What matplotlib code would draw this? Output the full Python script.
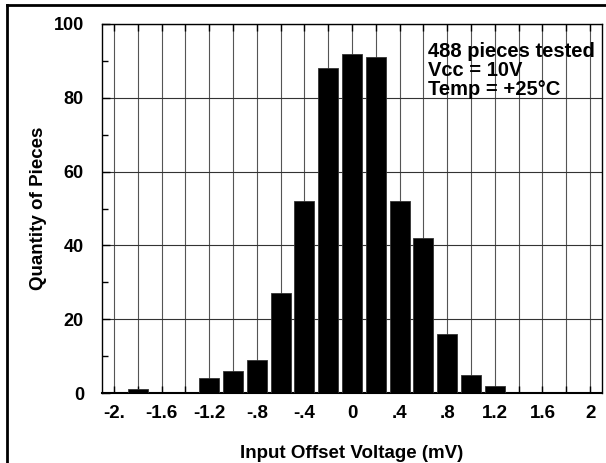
import matplotlib.pyplot as plt
import numpy as np

plt.rcParams['font.family'] = ['Liberation Sans', 'DejaVu Sans']
plt.rcParams['font.weight'] = 'bold'

#histogram data
voltage_bins = [-2.0, -1.8, -1.6, -1.4, -1.2, -1.0, -0.8, -0.6, -0.4, -0.2, 0.0,
                0.2, 0.4, 0.6, 0.8, 1.0, 1.2, 1.4, 1.6, 1.8, 2.0]
piece_counts = [0, 1, 0, 0, 4, 6, 9, 27, 52, 88, 92, 91, 52, 42, 16, 5, 2, 0, 0, 0, 0]
x_tick_labels = ['-2.', '', '-1.6', '', '-1.2', '', '-.8', '', '-.4', '', '0',
                 '', '.4', '', '.8', '', '1.2', '', '1.6', '', '2']
y_ticks = [0, 20, 40, 60, 80, 100]

fig = plt.figure(figsize=(6.06, 4.63), dpi=100)
ax = fig.add_axes([102/606, 1-393/463, 500/606, 369/463])

ax.bar(voltage_bins, piece_counts, width=0.168, color='black', edgecolor='#333333',
       linewidth=0.6, zorder=3)

ax.set_xlim(-2.1, 2.1)
ax.set_ylim(0, 100)
ax.set_xticks(voltage_bins)
ax.set_xticklabels(x_tick_labels, fontsize=13.5, fontweight='bold')
ax.set_yticks(y_ticks)
ax.set_yticklabels([str(v) for v in y_ticks], fontsize=13, fontweight='bold')
ax.set_yticks(np.arange(10, 100, 20), minor=True)

ax.grid(True, axis='x', color='#555555', linewidth=0.8, zorder=1)
ax.grid(True, axis='y', which='major', color='#333333', linewidth=0.8, zorder=1)
ax.tick_params(axis='x', direction='in', top=True, length=5, width=1, pad=9)
ax.tick_params(axis='y', which='major', direction='in', length=6, width=1, pad=13)
ax.tick_params(axis='y', which='minor', direction='in', length=4, width=1)
for sp in ax.spines.values():
    sp.set_linewidth(1.0)
ax.spines['bottom'].set_linewidth(1.5)

ax.set_xlabel('Input Offset Voltage (mV)', fontsize=13.5, fontweight='bold', labelpad=16)
ax.set_ylabel('Quantity of Pieces', fontsize=13.5, fontweight='bold', labelpad=5)

ax.text(0.652, 0.95, '488 pieces tested\nVcc = 10V\nTemp = +25°C', transform=ax.transAxes,
        ha='left', va='top', fontsize=14.5, fontweight='bold', linespacing=1.0, zorder=4)

#frame around the figure (only top and left survive the crop)
fig.add_artist(plt.Line2D([7/606, 1.0], [1-5/463, 1-5/463], color='black', linewidth=2,
                          transform=fig.transFigure))
fig.add_artist(plt.Line2D([7/606, 7/606], [0.0, 1-5/463], color='black', linewidth=2,
                          transform=fig.transFigure))

plt.savefig('out.png', dpi=100)
